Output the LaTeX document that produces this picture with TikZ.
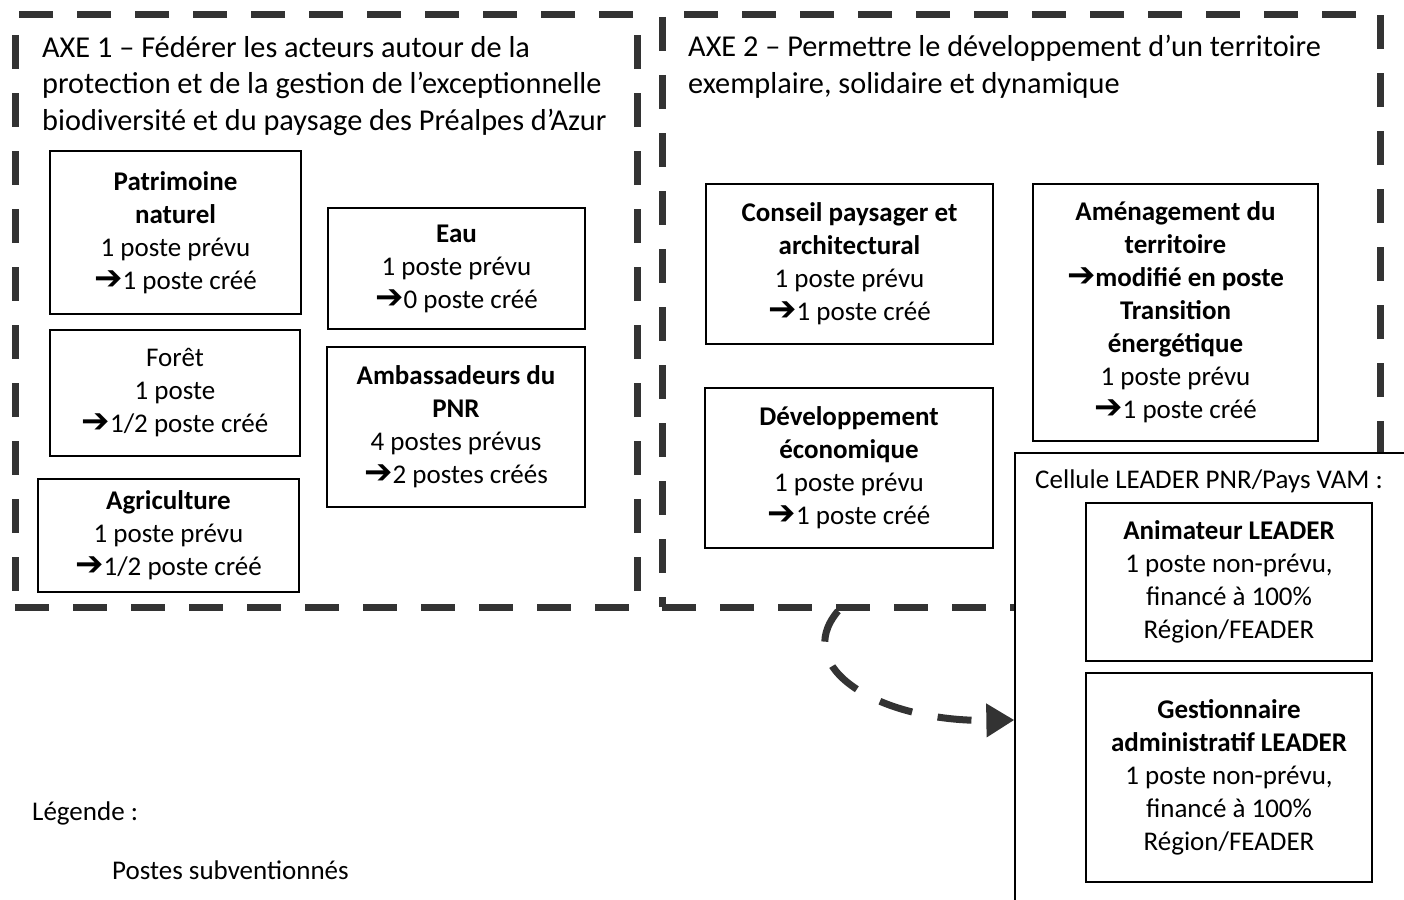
\documentclass[tikz,border=0pt]{standalone}
\usepackage{fontspec}
\setmainfont{Carlito}
\newfontfamily\arrowfont{DejaVu Sans}
\usepackage{tikz}
\usetikzlibrary{arrows.meta, positioning}

\newcommand{\fl}{{\arrowfont\fontsize{34}{33}\selectfont ➔}}
\newcommand{\boxfont}{\fontsize{27}{33}\selectfont}
\newcommand{\titlefont}{\fontsize{30.3}{36.5}\selectfont}

\begin{document}
\begin{tikzpicture}[x=1pt, y=-1pt,
    axe/.style={draw=black!80, line width=7pt, dash pattern=on 34pt off 24pt, inner sep=0},
    poste/.style={draw, line width=1.3pt, fill=white, align=center, font=\boxfont, inner sep=0},
    titre/.style={align=left, anchor=north west, inner sep=0, font=\titlefont},
    fleche/.style={draw=black!80, line width=7pt, dash pattern=on 34pt off 26pt, -{Triangle[length=28pt, width=32pt]}}
]
    \useasboundingbox (0,0) rectangle (1404,899);
    \clip (0,0) rectangle (1404,899);

    % cadres des deux axes
    \node[axe, minimum width=622pt, minimum height=592pt] (axe1) at (326,311) {};
    \node[axe, minimum width=718pt, minimum height=592pt] (axe2) at (1021,311) {};

    % cellule LEADER
    \node[poste, minimum width=405pt, minimum height=534pt] (cellule) at (1217.5,720) {};
    \node[font=\boxfont, inner sep=0] (celltitle) at (1209,481) {Cellule LEADER PNR/Pays VAM :};

    % titres
    \node[titre] (titre1) at (42,36) {AXE 1 -- Fédérer les acteurs autour de la\\protection et de la gestion de l'exceptionnelle\\biodiversité et du paysage des Préalpes d'Azur};
    \node[titre] (titre2) at (688,35) {AXE 2 -- Permettre le développement d'un territoire\\exemplaire, solidaire et dynamique};

    % postes axe 1
    \node[poste, minimum width=251pt, minimum height=163pt] (pat) at (175.5,232.5) {\textbf{Patrimoine}\\\textbf{naturel}\\1 poste prévu\\\fl1 poste créé};
    \node[poste, minimum width=257pt, minimum height=121pt] (eau) at (456.5,268.5) {\textbf{Eau}\\1 poste prévu\\\fl0 poste créé};
    \node[poste, minimum width=250pt, minimum height=126pt] (foret) at (175,393) {Forêt\\1 poste\\\fl1/2 poste créé};
    \node[poste, minimum width=258pt, minimum height=160pt] (amba) at (456,427) {\textbf{Ambassadeurs du}\\\textbf{PNR}\\4 postes prévus\\\fl2 postes créés};
    \node[poste, minimum width=261pt, minimum height=113pt] (agri) at (168.5,535.5) {\textbf{Agriculture}\\1 poste prévu\\\fl1/2 poste créé};

    % postes axe 2
    \node[poste, minimum width=287pt, minimum height=160pt] (conseil) at (849.5,264) {\textbf{Conseil paysager et}\\\textbf{architectural}\\1 poste prévu\\\fl1 poste créé};
    \node[poste, minimum width=288pt, minimum height=160pt] (dev) at (849,468) {\textbf{Développement}\\\textbf{économique}\\1 poste prévu\\\fl1 poste créé};
    \node[poste, minimum width=285pt, minimum height=257pt] (amen) at (1175.5,312.5) {\textbf{Aménagement du}\\\textbf{territoire}\\\textbf{\fl modifié en poste}\\\textbf{Transition}\\\textbf{énergétique}\\1 poste prévu\\\fl1 poste créé};

    % postes LEADER
    \node[poste, minimum width=286pt, minimum height=158pt] (anim) at (1229,582) {\textbf{Animateur LEADER}\\1 poste non-prévu,\\financé à 100\%\\Région/FEADER};
    \node[poste, minimum width=286pt, minimum height=209pt] (gest) at (1229,777.5) {\textbf{Gestionnaire}\\\textbf{administratif LEADER}\\1 poste non-prévu,\\financé à 100\%\\Région/FEADER};

    % fleche vers la cellule
    \coordinate (depart) at (838,611);
    \draw[fleche] (depart) .. controls (790,668) and (880,722) .. (cellule.west);

    % legende
    \node[font=\boxfont, anchor=west, inner sep=0] (legende) at (32,813) {Légende :};
    \node[font=\boxfont, anchor=west, inner sep=0] (subv) at (112,870) {Postes subventionnés};
\end{tikzpicture}
\end{document}
